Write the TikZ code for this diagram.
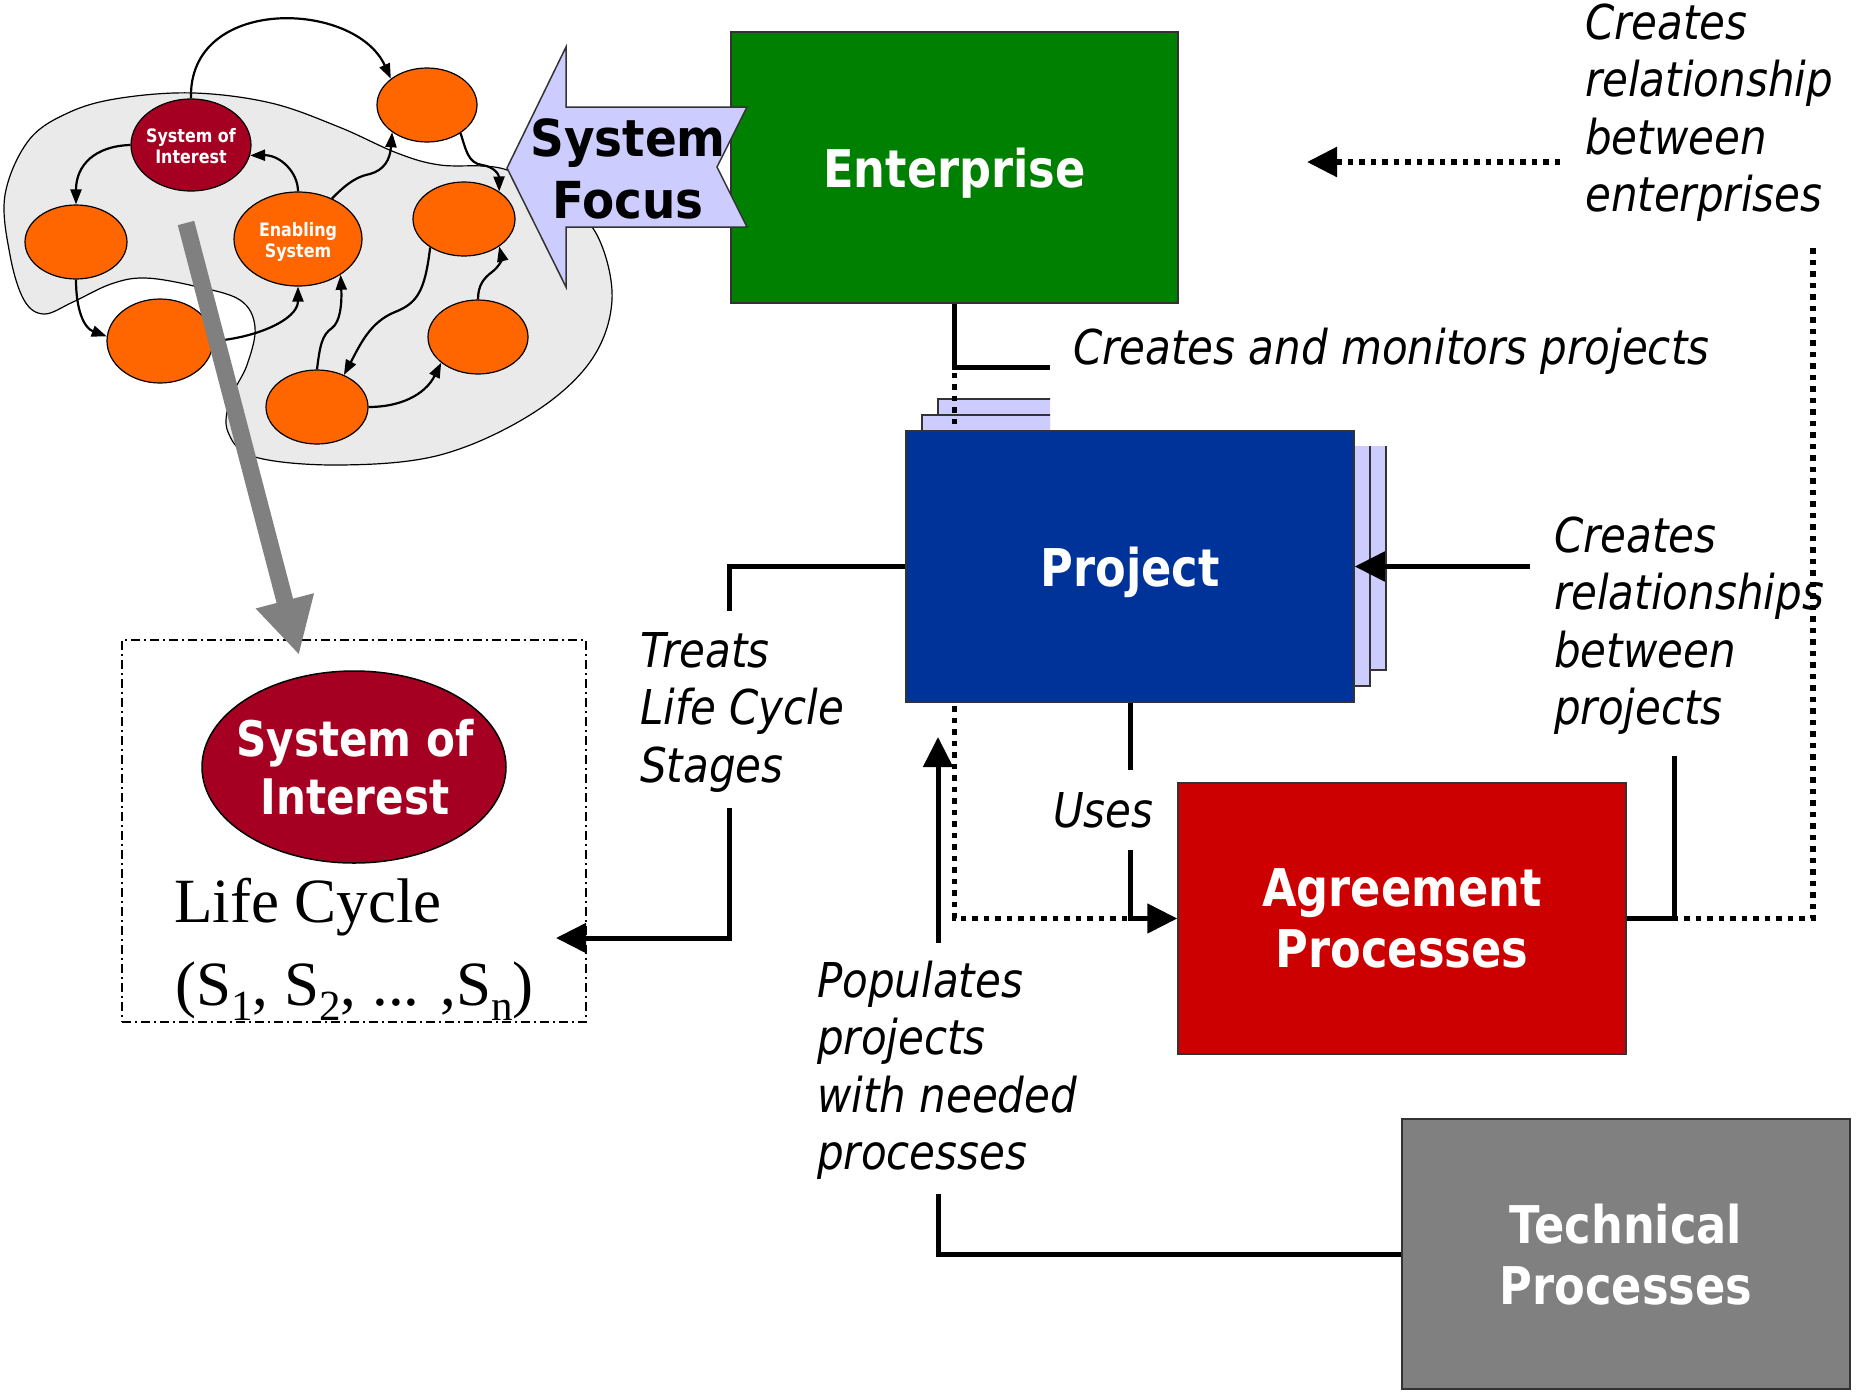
\documentclass[tikz,border=0pt]{standalone}
\usepackage{fontspec}
\setmainfont{Liberation Serif}
\newfontfamily\tah[FakeStretch=0.86]{DejaVu Sans}
\newfontfamily\tahsf[FakeStretch=0.92]{DejaVu Sans}
\newfontfamily\tahi[FakeStretch=0.875]{DejaVu Sans}
\usetikzlibrary{arrows.meta,shapes.geometric}
\definecolor{entgreen}{HTML}{008000}
\definecolor{projblue}{HTML}{003399}
\definecolor{agrred}{HTML}{CC0000}
\definecolor{techgray}{HTML}{808080}
\definecolor{lav}{HTML}{CCCCFF}
\definecolor{soired}{HTML}{A50021}
\definecolor{orng}{HTML}{FF6600}
\definecolor{blobgray}{HTML}{EAEAEA}
\begin{document}
\begin{tikzpicture}[x=1pt,y=-1pt,
  bigbox/.style={draw=black!80, line width=1.5pt, inner sep=0pt, text=white,
    font=\tah\bfseries\fontsize{52}{61}\selectfont, align=center, text depth=0pt,
    minimum width=448pt, minimum height=271pt},
  lbl/.style={font=\tahi\itshape\fontsize{48}{57.5}\selectfont, align=left, inner sep=0pt, anchor=north west},
  conn/.style={line width=5pt, line join=miter},
  dots/.style={line width=5.5pt, dash pattern=on 5.5pt off 6pt},
  bigtip/.style={-{Triangle[length=30pt,width=29pt]}},
  netnode/.style={ellipse, draw=black, line width=1.2pt, fill=orng, inner sep=0pt},
  netarr/.style={line width=2.2pt, -{Triangle[length=15pt,width=11pt]}},
  nettext/.style={text=white, font=\tah\bfseries\fontsize{18.5}{20.5}\selectfont, align=center, text depth=0pt},
  pagebox/.style={draw=black!80, line width=1.5pt, fill=lav}
]
\useasboundingbox (0,0) rectangle (1857,1392);

% ---------- network cloud ----------
\draw[fill=blobgray, line width=1.2pt] plot[smooth cycle, tension=0.6] coordinates {
 (10,255) (5,195) (29,140) (70,112) (121,98) (194,93) (271,103) (339,127) (397,153)
 (440,165) (504,169) (560,200) (597,235) (612,300) (590,362) (530,415) (440,455)
 (340,465) (255,457) (228,432) (230,400) (247,365) (255,327) (240,300) (194,286)
 (145,278) (111,284) (73,302) (44,314) (24,300)};

\node[netnode, fill=soired, minimum width=120pt, minimum height=92pt] (soi) at (191,145) {};
\node[nettext] at (191,146) {System of\\Interest};
\node[netnode, minimum width=100pt, minimum height=74pt] (nt) at (427,105) {};
\node[netnode, minimum width=102pt, minimum height=74pt] (nl) at (76,242) {};
\node[netnode, minimum width=128pt, minimum height=94pt] (ena) at (298,239) {};
\node[nettext] at (298,240) {Enabling\\System};
\node[netnode, minimum width=102pt, minimum height=74pt] (nrt) at (464,219) {};
\node[netnode, minimum width=106pt, minimum height=84pt] (nbl) at (160,341) {};
\node[netnode, minimum width=100pt, minimum height=74pt] (nrl) at (478,337) {};
\node[netnode, minimum width=102pt, minimum height=74pt] (nb) at (317,407) {};

\draw[netarr] (soi.north) .. controls (188,-5) and (355,0) .. (nt.144);
\draw[netarr] (soi.west) .. controls (95,146) and (76,165) .. (nl.north);
\draw[netarr] (ena.north) .. controls (298,172) and (280,155) .. (soi.-10);
\draw[netarr] (nl.south) .. controls (76,310) and (84,328) .. (nbl.175);
\draw[netarr] (nbl.east) .. controls (255,338) and (298,320) .. (ena.south);
\draw[netarr] (ena.50) .. controls (350,180) and (360,176) .. (370,174) .. controls (384,170) and (390,160) .. (nt.218);
\draw[netarr] (nt.-40) .. controls (466,150) and (468,163) .. (482,165) .. controls (495,167) and (499,175) .. (nrt.38);
\draw[netarr] (nb.north) .. controls (320,345) and (322,335) .. (332,328) .. controls (340,322) and (342,305) .. (ena.-40);
\draw[netarr] (nrt.220) .. controls (425,290) and (418,303) .. (395,312) .. controls (370,322) and (360,345) .. (nb.50);
\draw[netarr] (nb.east) .. controls (400,407) and (425,395) .. (nrl.215);
\draw[netarr] (nrl.north) .. controls (478,285) and (484,278) .. (492,272) .. controls (500,266) and (502,258) .. (nrt.-38);

% ---------- enterprise and system focus ----------
\node[bigbox, fill=entgreen, minimum height=271pt, minimum width=447pt] (ent) at (954.5,167.5) {Enterprise};
\draw[fill=lav, draw=black!80, line width=1.5pt] (507,168) -- (566,47) -- (566,107) -- (747,107)
  -- (717,167) -- (747,227) -- (566,227) -- (566,287) -- cycle;
\node[font=\tahsf\bfseries\fontsize{51}{62}\selectfont, align=center, text depth=0pt, inner sep=0pt] (sf) at (628,169) {System\\Focus};

% ---------- project stack ----------
\begin{scope}
\clip (0,0) -- (1050,0) -- (1050,446) -- (1857,446) -- (1857,1392) -- (0,1392) -- cycle;
\draw[pagebox] (938,399) rectangle (1386,670);
\draw[pagebox] (922,415) rectangle (1370,686);
\end{scope}
\coordinate (cmpend) at (1050,367);
\draw[dots] (ent.south) |- (1178,918.5);
\draw[conn] (ent.south) |- (cmpend);

\node[bigbox, fill=projblue] (proj) at (1130,566.5) {Project};
\node[bigbox, fill=agrred] (agr) at (1402,918.5) {Agreement\\Processes};
\node[bigbox, fill=techgray, minimum height=270pt] (tech) at (1626,1254) {Technical\\Processes};

% ---------- coordinates ----------
\coordinate (lctip) at (556,938);
\coordinate (poptip) at (938,737);
\coordinate (relstart) at (1530,566.5);
\coordinate (agrtop) at (1674,756);
\coordinate (entdotend) at (1813,248);
\coordinate (entarrS) at (1560,162);
\coordinate (entarrE) at (1307,162);
\coordinate (graystart) at (186,223);
\coordinate (graytip) at (299,655);

% ---------- connectors ----------
\draw[conn, bigtip] (proj.south) |- (agr.west);
\draw[conn, bigtip] (proj.west) -- ++(-176,0) |- (lctip);
\draw[conn, bigtip] (tech.west) -| (poptip);
\draw[conn, bigtip] (relstart) -- (proj.east);
\draw[dots] (agr.east) -| (entdotend);
\draw[conn] (agrtop) |- (agr.east);
\draw[dots, bigtip] (entarrS) -- (entarrE);

% ---------- labels ----------
\node[lbl] (lblcmp) at (1073,324) {\rule{0pt}{40pt}Creates and monitors projects};
\node[lbl] (lblent) at (1585,-1) {\rule{0pt}{40pt}Creates\\relationship\\between\\enterprises};
\node[lbl] (lblproj) at (1554,512) {\rule{0pt}{40pt}Creates\\relationships\\between\\projects};
\node[lbl, fill=white, inner xsep=5pt, inner ysep=16pt] (lbltreat) at (635,611) {\rule{0pt}{40pt}Treats\\Life Cycle\\Stages};
\node[lbl, fill=white, inner xsep=5pt, inner ysep=17pt] (lbluses) at (1048,770) {\rule[-6pt]{0pt}{46pt}Uses};
\node[lbl, fill=white, inner xsep=5pt, inner ysep=14pt] (lblpop) at (812,943) {\rule{0pt}{40pt}Populates\\projects\\with needed\\processes};

% ---------- life cycle box ----------
\node[draw=black, line width=1.5pt, dash pattern=on 9pt off 4pt on 2pt off 4pt,
  minimum width=464pt, minimum height=382pt, inner sep=0pt] (lcbox) at (354,831) {};
\node[ellipse, draw=black, line width=1.5pt, fill=soired, minimum width=304pt, minimum height=192pt, inner sep=0pt] (bigsoi) at (354,767) {};
\node[text=white, font=\tah\bfseries\fontsize{49}{58}\selectfont, align=center, text depth=0pt, inner sep=0pt] at (355,767) {System of\\Interest};
\node[anchor=base west, inner sep=0pt, font=\fontsize{63}{70}\selectfont] (lctext) at (174,922) {Life Cycle};
\node[anchor=base west, inner sep=0pt, font=\fontsize{63}{70}\selectfont] (lcstages) at (175,1005)
 {(S\raisebox{-15pt}{\fontsize{43}{43}\selectfont 1}, S\raisebox{-15pt}{\fontsize{43}{43}\selectfont 2}, ... ,S\raisebox{-15pt}{\fontsize{43}{43}\selectfont n})};

% ---------- gray arrow ----------
\draw[line width=17pt, draw=techgray, -{Triangle[length=56pt,width=56pt]}] (graystart) -- (graytip);
\end{tikzpicture}
\end{document}
